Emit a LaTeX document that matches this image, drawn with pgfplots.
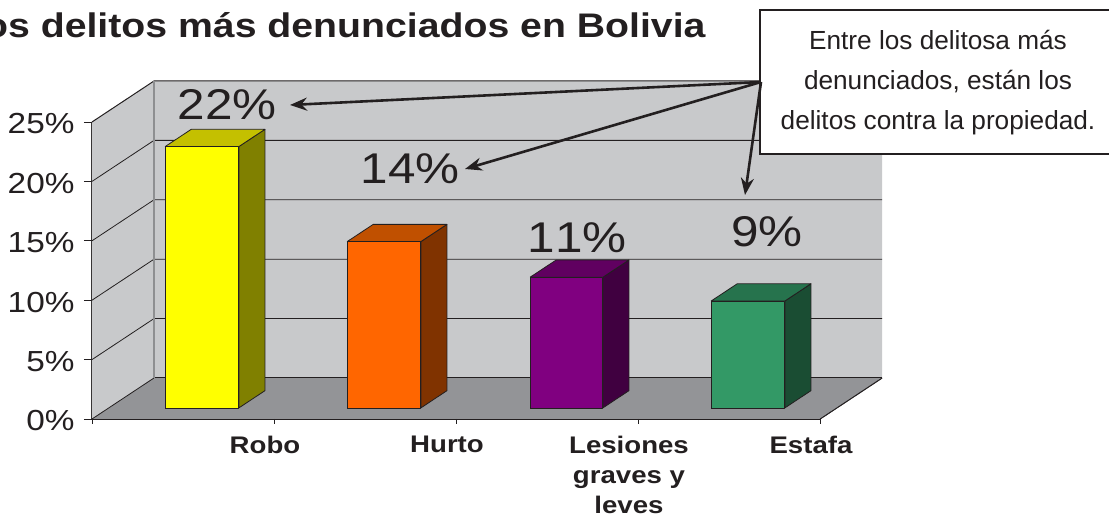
\documentclass[border=0pt]{standalone}
\usepackage{fontspec}
\setmainfont[FakeStretch=1.15,Kerning=Off]{Liberation Sans}
\newfontfamily\plainfont{Liberation Sans}
\usepackage{pgfplots}
\pgfplotsset{compat=1.18}
\usetikzlibrary{arrows.meta}
\definecolor{ink}{HTML}{231F20}
\definecolor{wall}{HTML}{C8C9CB}
\definecolor{floorc}{HTML}{939497}
\definecolor{frame}{HTML}{8E8F91}
\definecolor{yf}{HTML}{FFFF00}\definecolor{yt}{HTML}{C4C000}\definecolor{ys}{HTML}{808000}
\definecolor{of}{HTML}{FF6600}\definecolor{ot}{HTML}{C05000}\definecolor{os}{HTML}{803300}
\definecolor{pf}{HTML}{800080}\definecolor{pt}{HTML}{600060}\definecolor{ps}{HTML}{400040}
\definecolor{gf}{HTML}{339966}\definecolor{gt}{HTML}{26734D}\definecolor{gs}{HTML}{1A4D33}
% x0 x1 value front top side
\newcommand\barbox[6]{%
  \addplot3[draw=ink,line width=0.8pt,fill=#6,line join=round] coordinates {(#2,0.27,0) (#2,0.69,0) (#2,0.69,#3) (#2,0.27,#3) (#2,0.27,0)};
  \addplot3[draw=ink,line width=0.8pt,fill=#5,line join=round] coordinates {(#1,0.27,#3) (#2,0.27,#3) (#2,0.69,#3) (#1,0.69,#3) (#1,0.27,#3)};
  \addplot3[draw=ink,line width=0.8pt,fill=#4,line join=round] coordinates {(#1,0.27,0) (#2,0.27,0) (#2,0.27,#3) (#1,0.27,#3) (#1,0.27,0)};
}
\begin{document}
\begin{tikzpicture}[x=1pt,y=1pt]
\useasboundingbox (0,0) rectangle (1109,519);
\begin{axis}[
  at={(92pt,100pt)}, anchor=origin,
  x={(182pt,0pt)}, y={(62pt,41pt)}, z={(0pt,11.88pt)},
  xmin=0, xmax=4, ymin=0, ymax=1, zmin=0, zmax=25,
  clip=false,
  axis lines=left,
  axis line style={-,draw=ink,line width=1.2pt},
  major tick length=0pt,
  xtick={0,1,2,3,4},
  xticklabels={,Robo,Hurto,{Lesiones\\graves y\\leves},Estafa},
  xticklabel style={font=\bfseries\fontsize{24}{30}\selectfont,text=ink,align=center,anchor=north,inner sep=0pt,xshift=-9pt,yshift=-17pt},
  ytick=\empty,
  ztick={0,5,10,15,20,25},
  zticklabels={0\%,5\%,10\%,15\%,20\%,25\%},
  zticklabel style={font=\fontsize{29}{30}\selectfont,text=ink,anchor=east,xshift=-14pt,yshift=-2pt},
]
% floor and walls
\addplot3[draw=none,fill=wall] coordinates {(0,1,0) (4,1,0) (4,1,25) (0,1,25) (0,1,0)};
\addplot3[draw=none,fill=wall] coordinates {(0,0,0) (0,1,0) (0,1,25) (0,0,25) (0,0,0)};
\addplot3[draw=none,fill=floorc] coordinates {(0,0,0) (4,0,0) (4,1,0) (0,1,0) (0,0,0)};
% gridlines
\addplot3[draw=ink,line width=0.8pt] coordinates {(0,0,5) (0,1,5) (4,1,5)};
\addplot3[draw=ink,line width=0.8pt] coordinates {(0,0,10) (0,1,10) (4,1,10)};
\addplot3[draw=ink,line width=0.8pt] coordinates {(0,0,15) (0,1,15) (4,1,15)};
\addplot3[draw=ink,line width=0.8pt] coordinates {(0,0,20) (0,1,20) (4,1,20)};
\addplot3[draw=ink,line width=1pt] coordinates {(0,0,25) (0,1,25) (4,1,25)};
\addplot3[draw=ink,line width=1pt] coordinates {(0,1,0) (4,1,0)};
\addplot3[draw=ink,line width=0.8pt] coordinates {(0,0,0) (0,1,0)};
\addplot3[draw=ink,line width=0.8pt] coordinates {(4,0,0) (4,1,0)};
\addplot3[draw=frame,line width=1.4pt] coordinates {(0,1,0) (0,1,25)};
% tick marks (horizontal on the value axis, vertical on the category axis)
\addplot3[draw=ink,line width=0.8pt,forget plot] coordinates {(-0.044,0,0) (0,0,0)};
\addplot3[draw=ink,line width=0.8pt,forget plot] coordinates {(-0.044,0,5) (0,0,5)};
\addplot3[draw=ink,line width=0.8pt,forget plot] coordinates {(-0.044,0,10) (0,0,10)};
\addplot3[draw=ink,line width=0.8pt,forget plot] coordinates {(-0.044,0,15) (0,0,15)};
\addplot3[draw=ink,line width=0.8pt,forget plot] coordinates {(-0.044,0,20) (0,0,20)};
\addplot3[draw=ink,line width=0.8pt,forget plot] coordinates {(-0.044,0,25) (0,0,25)};
\addplot3[draw=ink,line width=0.8pt,forget plot] coordinates {(0,0,0) (0,0,-0.45)};
\addplot3[draw=ink,line width=0.8pt,forget plot] coordinates {(1,0,0) (1,0,-0.45)};
\addplot3[draw=ink,line width=0.8pt,forget plot] coordinates {(2,0,0) (2,0,-0.45)};
\addplot3[draw=ink,line width=0.8pt,forget plot] coordinates {(3,0,0) (3,0,-0.45)};
\addplot3[draw=ink,line width=0.8pt,forget plot] coordinates {(4,0,0) (4,0,-0.45)};
% bars
\barbox{0.31}{0.715}{22}{yf}{yt}{ys}
\barbox{1.31}{1.715}{14}{of}{ot}{os}
\barbox{2.315}{2.715}{11}{pf}{pt}{ps}
\barbox{3.31}{3.715}{9}{gf}{gt}{gs}
\end{axis}
% text in pixel positions (y measured from the bottom)
\node[text=ink,font=\fontsize{43}{44}\selectfont] at (227,414) {22\%};
\node[text=ink,font=\fontsize{43}{44}\selectfont] at (410,350) {14\%};
\node[text=ink,font=\fontsize{43}{44}\selectfont] at (577,281) {11\%};
\node[text=ink,font=\fontsize{43}{44}\selectfont] at (767,287) {9\%};
\node[anchor=east,text=ink,font=\bfseries\fontsize{34.1}{36}\selectfont] at (709,494) {Los delitos más denunciados en Bolivia};
% callout
\draw[draw=ink,line width=2.2pt,fill=white] (760,365) rectangle (1115,509);
\node[align=center,text=ink,font=\plainfont\fontsize{26.2}{40}\selectfont] at (938,436) {Entre los delitosa más\\denunciados, están los\\delitos contra la propiedad.};
\draw[draw=ink,line width=2.6pt,-{Stealth[length=17pt,width=13pt]}] (761,437) -- (290,414);
\draw[draw=ink,line width=2.6pt,-{Stealth[length=17pt,width=13pt]}] (761,437) -- (465,350);
\draw[draw=ink,line width=2.6pt,-{Stealth[length=17pt,width=13pt]}] (761,437) -- (745,324);
\end{tikzpicture}
\end{document}
